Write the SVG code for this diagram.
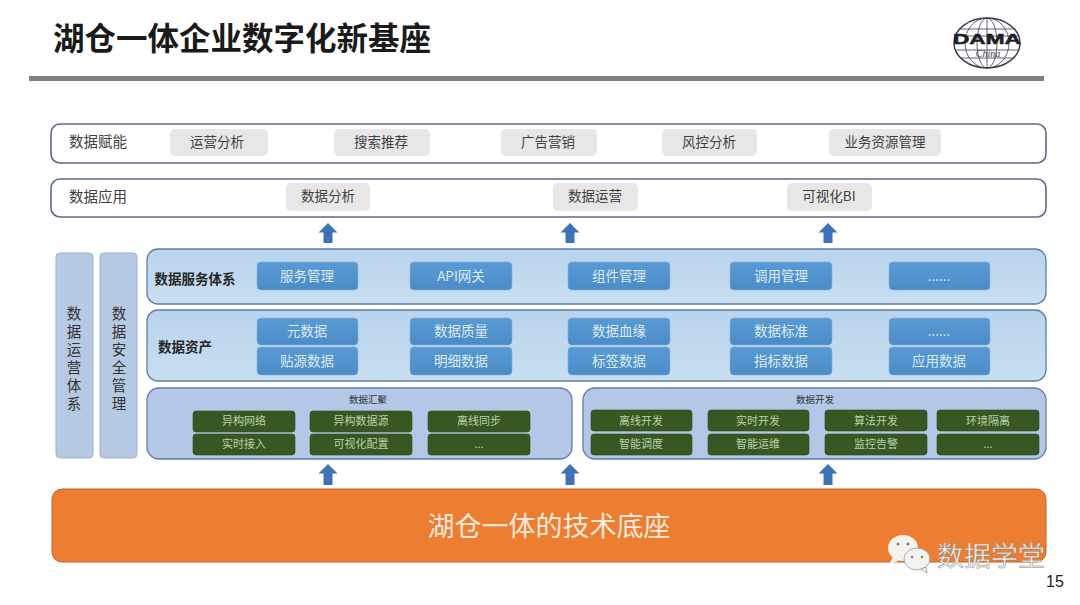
<svg xmlns="http://www.w3.org/2000/svg" width="1080" height="605" viewBox="0 0 1080 605">
<defs>
<linearGradient id="blue" x1="0" y1="0" x2="0" y2="1"><stop offset="0" stop-color="#5a9ad4"/><stop offset="1" stop-color="#4b8cc8"/></linearGradient>
<linearGradient id="panel" x1="0" y1="0" x2="0" y2="1"><stop offset="0" stop-color="#b8d4ed"/><stop offset="1" stop-color="#c9def1"/></linearGradient>
</defs>
<style>
text{font-family:"Noto Sans CJK SC","Liberation Sans",sans-serif;text-anchor:middle}
.bar{fill:#fff;stroke:#5b6a8e;stroke-width:1.6}
.chip{fill:#e7e7e7}
.ct{font-size:13.500px;fill:#404040}
.hd{font-size:14.500px;fill:#404040}
.side{fill:#b7c8e2;stroke:#9db2cf;stroke-width:1}
.pl{fill:url(#panel);stroke:#5f7ea3;stroke-width:1.3}
.pd{fill:#b4c7e7;stroke:#5f7ea3;stroke-width:1.3}
.btn{fill:url(#blue);stroke:#7fb0dc;stroke-width:.6}
.bt{font-size:13.500px;fill:#dcebf6}
.lb{font-size:13.500px;font-weight:700;fill:#262626}
.g{fill:#385723;stroke:#2d4a1c;stroke-width:.6}
.gt{font-size:11px;fill:#bcd2ac}
.st{font-size:14.500px;fill:#333;writing-mode:vertical-rl;letter-spacing:3.5px}
.arrow{fill:#3f72b4}
.w{fill:#f5f3ee;stroke:#8a8a8a;stroke-width:.7}
.lg{fill:none;stroke:#3d3d4d;stroke-width:.8}
</style>
<rect width="1080" height="605" fill="#fff"/>
<text id="title" x="242" y="50" font-size="31.500" font-weight="700" fill="#1a1a1a">湖仓一体企业数字化新基座</text>
<rect id="rule" x="29" y="76" width="1015" height="5" fill="#7f7f7f"/>
<g id="logo">
<ellipse cx="987" cy="43" rx="33" ry="25" fill="#fff" stroke="#3d3d4d" stroke-width="1.500"/>
<ellipse class="lg" cx="987" cy="43" rx="22" ry="25"/><ellipse class="lg" cx="987" cy="43" rx="10" ry="25"/>
<path class="lg" d="M987 18V68M960 29H1014M955 36H1019M955 50H1019M960 58H1014"/>
<text x="987" y="44" font-size="15" font-weight="700" fill="#1e1e28" stroke="#1e1e28" stroke-width=".5" style="font-family:'Liberation Sans',sans-serif" textLength="68" lengthAdjust="spacingAndGlyphs">DAMA</text>
<text x="988" y="57" font-size="10" font-style="italic" fill="#3d3d4d" style="font-family:'Liberation Serif',serif">China</text>
</g>
<g id="row-enable">
<rect class="bar" x="51" y="124" width="995" height="39" rx="9"/>
<text x="98" y="147" class="hd">数据赋能</text>
<rect class="chip" x="170" y="129" width="98" height="27" rx="5"/><text class="ct" x="217" y="147">运营分析</text>
<rect class="chip" x="334" y="129" width="96" height="27" rx="5"/><text class="ct" x="381" y="147">搜索推荐</text>
<rect class="chip" x="501" y="129" width="96" height="27" rx="5"/><text class="ct" x="548" y="147">广告营销</text>
<rect class="chip" x="662" y="129" width="95" height="27" rx="5"/><text class="ct" x="709" y="147">风控分析</text>
<rect class="chip" x="829" y="129" width="112" height="27" rx="5"/><text class="ct" x="885" y="147">业务资源管理</text>
</g>
<g id="row-app">
<rect class="bar" x="51" y="179" width="995" height="38" rx="9"/>
<text x="98" y="202" class="hd">数据应用</text>
<rect class="chip" x="286" y="183" width="84" height="28" rx="5"/><text class="ct" x="328" y="201">数据分析</text>
<rect class="chip" x="553" y="183" width="85" height="28" rx="5"/><text class="ct" x="595" y="201">数据运营</text>
<rect class="chip" x="787" y="183" width="85" height="28" rx="5"/><text class="ct" x="829" y="201">可视化BI</text>
</g>
<g id="connectors">
<path class="arrow" d="M328 223l9.500 9.500h-5V243h-9V232.500h-5z"/>
<path class="arrow" d="M570 223l9.500 9.500h-5V243h-9V232.500h-5z"/>
<path class="arrow" d="M828 223l9.500 9.500h-5V243h-9V232.500h-5z"/>
<path class="arrow" d="M328 464l9.500 9.500h-5V485h-9V473.500h-5z"/>
<path class="arrow" d="M570 464l9.500 9.500h-5V485h-9V473.500h-5z"/>
<path class="arrow" d="M828 464l9.500 9.500h-5V485h-9V473.500h-5z"/>
</g>
<g id="ops">
<rect class="side" x="56" y="253" width="37" height="205" rx="4"/>
<text class="st" x="74" y="360">数据运营体系</text>
</g>
<g id="sec">
<rect class="side" x="100" y="253" width="37" height="205" rx="4"/>
<text class="st" x="119" y="360">数据安全管理</text>
</g>
<g id="service">
<rect class="pl" x="147" y="249" width="899" height="55" rx="11"/>
<text class="lb" x="195" y="284">数据服务体系</text>
<rect class="btn" x="257" y="262" width="101" height="28" rx="4"/><text class="bt" x="307" y="281">服务管理</text>
<rect class="btn" x="410" y="262" width="102" height="28" rx="4"/><text class="bt" x="461" y="281">API网关</text>
<rect class="btn" x="568" y="262" width="102" height="28" rx="4"/><text class="bt" x="619" y="281">组件管理</text>
<rect class="btn" x="730" y="262" width="102" height="28" rx="4"/><text class="bt" x="781" y="281">调用管理</text>
<rect class="btn" x="889" y="262" width="101" height="28" rx="4"/><text class="bt" x="939" y="281">......</text>
</g>
<g id="assets">
<rect class="pl" x="147" y="310" width="899" height="71" rx="11"/>
<text class="lb" x="185" y="352">数据资产</text>
<rect class="btn" x="257" y="318" width="101" height="27" rx="4"/><text class="bt" x="307" y="336">元数据</text>
<rect class="btn" x="257" y="347" width="101" height="28" rx="4"/><text class="bt" x="307" y="366">贴源数据</text>
<rect class="btn" x="410" y="318" width="102" height="27" rx="4"/><text class="bt" x="461" y="336">数据质量</text>
<rect class="btn" x="410" y="347" width="102" height="28" rx="4"/><text class="bt" x="461" y="366">明细数据</text>
<rect class="btn" x="568" y="318" width="102" height="27" rx="4"/><text class="bt" x="619" y="336">数据血缘</text>
<rect class="btn" x="568" y="347" width="102" height="28" rx="4"/><text class="bt" x="619" y="366">标签数据</text>
<rect class="btn" x="730" y="318" width="102" height="27" rx="4"/><text class="bt" x="781" y="336">数据标准</text>
<rect class="btn" x="730" y="347" width="102" height="28" rx="4"/><text class="bt" x="781" y="366">指标数据</text>
<rect class="btn" x="889" y="318" width="101" height="27" rx="4"/><text class="bt" x="939" y="336">......</text>
<rect class="btn" x="889" y="347" width="101" height="28" rx="4"/><text class="bt" x="939" y="366">应用数据</text>
</g>
<g id="collect">
<rect class="pd" x="147" y="388" width="425" height="71" rx="12"/>
<text x="368" y="403" font-size="9.500" fill="#333">数据汇聚</text>
<rect class="g" x="193" y="411" width="102" height="21" rx="3"/><text class="gt" x="244" y="425">异构网络</text>
<rect class="g" x="193" y="434" width="102" height="21" rx="3"/><text class="gt" x="244" y="448">实时接入</text>
<rect class="g" x="310" y="411" width="102" height="21" rx="3"/><text class="gt" x="361" y="425">异构数据源</text>
<rect class="g" x="310" y="434" width="102" height="21" rx="3"/><text class="gt" x="361" y="448">可视化配置</text>
<rect class="g" x="428" y="411" width="102" height="21" rx="3"/><text class="gt" x="479" y="425">离线同步</text>
<rect class="g" x="428" y="434" width="102" height="21" rx="3"/><text class="gt" x="479" y="448">...</text>
</g>
<g id="develop">
<rect class="pd" x="583" y="388" width="463" height="71" rx="12"/>
<text x="815" y="403" font-size="9.500" fill="#333">数据开发</text>
<rect class="g" x="591" y="410" width="101" height="21" rx="3"/><text class="gt" x="641" y="425">离线开发</text>
<rect class="g" x="591" y="434" width="101" height="21" rx="3"/><text class="gt" x="641" y="448">智能调度</text>
<rect class="g" x="708" y="410" width="101" height="21" rx="3"/><text class="gt" x="758" y="425">实时开发</text>
<rect class="g" x="708" y="434" width="101" height="21" rx="3"/><text class="gt" x="758" y="448">智能运维</text>
<rect class="g" x="825" y="410" width="102" height="21" rx="3"/><text class="gt" x="876" y="425">算法开发</text>
<rect class="g" x="825" y="434" width="102" height="21" rx="3"/><text class="gt" x="876" y="448">监控告警</text>
<rect class="g" x="937" y="410" width="102" height="21" rx="3"/><text class="gt" x="988" y="425">环境隔离</text>
<rect class="g" x="937" y="434" width="102" height="21" rx="3"/><text class="gt" x="988" y="448">...</text>
</g>
<g id="base">
<rect x="52" y="489" width="994" height="73" rx="10" fill="#ed7d31" stroke="#b8652e" stroke-width="1"/>
<text x="549" y="536" font-size="27" fill="#fbeadd">湖仓一体的技术底座</text>
</g>
<g id="watermark">
<ellipse cx="903" cy="548" rx="15" ry="13" fill="#f5f3ee"/>
<path d="M893 557l-4 7 10-3z" fill="#f5f3ee"/>
<ellipse class="w" cx="917" cy="559" rx="13" ry="11"/>
<path d="M921 569l6 4-1-6z" class="w"/>
<circle cx="898" cy="544" r="1.500" fill="#8a7a66"/><circle cx="908" cy="544" r="1.500" fill="#8a7a66"/>
<circle cx="912" cy="557" r="1.300" fill="#8a7a66"/><circle cx="922" cy="557" r="1.300" fill="#8a7a66"/>
<text x="991" y="566" font-size="27" style="fill:#f7f4ee;stroke:#8a8a8a;stroke-width:.5">数据学堂</text>
</g>
<text id="page" x="1055" y="587" font-size="16" fill="#222" style="font-family:'Liberation Sans',sans-serif">15</text>
</svg>
